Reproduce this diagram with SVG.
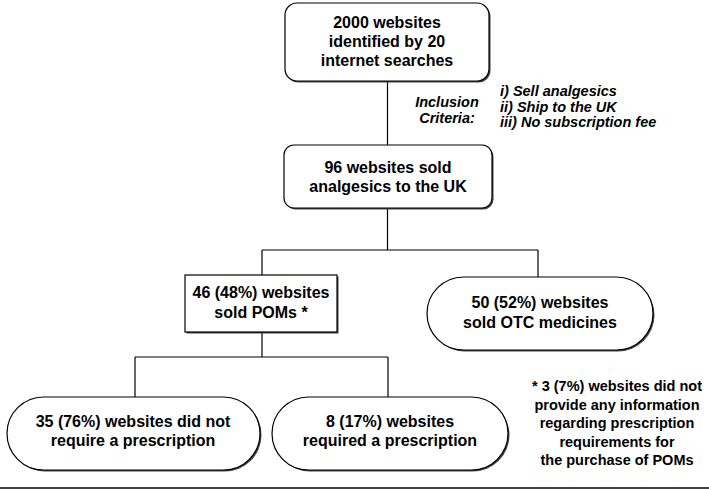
<svg xmlns="http://www.w3.org/2000/svg" width="709" height="491" viewBox="0 0 709 491">
<style>
.box{fill:#fff;stroke:#000;stroke-width:1.2}
.sh{fill:#444;stroke:none}
.t{font-family:"Liberation Sans",Arial,sans-serif;font-weight:bold;font-size:16px;fill:#000;text-anchor:middle}
.it{font-family:"Liberation Sans",Arial,sans-serif;font-weight:bold;font-style:italic;fill:#000}
.fn{font-family:"Liberation Sans",Arial,sans-serif;font-weight:bold;font-size:14.5px;fill:#000;text-anchor:middle}
.c{stroke:#000;stroke-width:1.2;fill:none}
</style>
<rect width="709" height="491" fill="#fff"/>
<g id="connectors">
<path class="c" d="M387.5,81 V145"/>
<path class="c" d="M387.5,208 V250 M262,250 H538 M262,250 V275 M538,250 V277"/>
<path class="c" d="M262,332 V357 M135,357 H388 M135,357 V397 M388,357 V397"/>
</g>
<g id="n1">
<rect class="sh" x="286.5" y="4.5" width="204" height="78" rx="12"/>
<rect class="box" x="285" y="3" width="204" height="78" rx="12"/>
<text class="t" x="387" y="28">2000 websites</text>
<text class="t" x="387" y="47">identified by 20</text>
<text class="t" x="387" y="66">internet searches</text>
</g>
<g id="criteria">
<text class="it" font-size="14.5" x="447" y="107" text-anchor="middle">Inclusion</text>
<text class="it" font-size="14.5" x="447" y="123" text-anchor="middle">Criteria:</text>
<text class="it" font-size="14.5" x="500" y="96">i) Sell analgesics</text>
<text class="it" font-size="14.5" x="500" y="111.5">ii) Ship to the UK</text>
<text class="it" font-size="14.5" x="500" y="127">iii) No subscription fee</text>
</g>
<g id="n2">
<rect class="sh" x="285.5" y="146.5" width="208" height="63" rx="10"/>
<rect class="box" x="284" y="145" width="208" height="63" rx="10"/>
<text class="t" x="388" y="173">96 websites sold</text>
<text class="t" x="388" y="192">analgesics to the UK</text>
</g>
<g id="n3">
<rect class="sh" x="186.5" y="276.5" width="152" height="57"/>
<rect class="box" x="185" y="275" width="152" height="57"/>
<text class="t" x="261" y="298">46 (48%) websites</text>
<text class="t" x="261" y="318">sold POMs *</text>
</g>
<g id="n4">
<rect class="sh" x="428.5" y="278.5" width="226" height="73" rx="36.5"/>
<rect class="box" x="427" y="277" width="226" height="73" rx="36.5"/>
<text class="t" x="540" y="308">50 (52%) websites</text>
<text class="t" x="540" y="328">sold OTC medicines</text>
</g>
<g id="n5">
<rect class="sh" x="8.5" y="398.5" width="253" height="73" rx="36.5"/>
<rect class="box" x="7" y="397" width="253" height="73" rx="36.5"/>
<text class="t" x="133" y="427">35 (76%) websites did not</text>
<text class="t" x="133" y="446">require a prescription</text>
</g>
<g id="n6">
<rect class="sh" x="273.5" y="398.5" width="236" height="73" rx="36.5"/>
<rect class="box" x="272" y="397" width="236" height="73" rx="36.5"/>
<text class="t" x="390" y="427">8 (17%) websites</text>
<text class="t" x="390" y="446">required a prescription</text>
</g>
<g id="footnote">
<text class="fn" x="617" y="391">* 3 (7%) websites did not</text>
<text class="fn" x="617" y="409.5">provide any information</text>
<text class="fn" x="617" y="428">regarding prescription</text>
<text class="fn" x="617" y="446.5">requirements for</text>
<text class="fn" x="617" y="465">the purchase of POMs</text>
</g>
<line x1="0" y1="488" x2="709" y2="488" stroke="#000" stroke-width="1.5"/>
</svg>
